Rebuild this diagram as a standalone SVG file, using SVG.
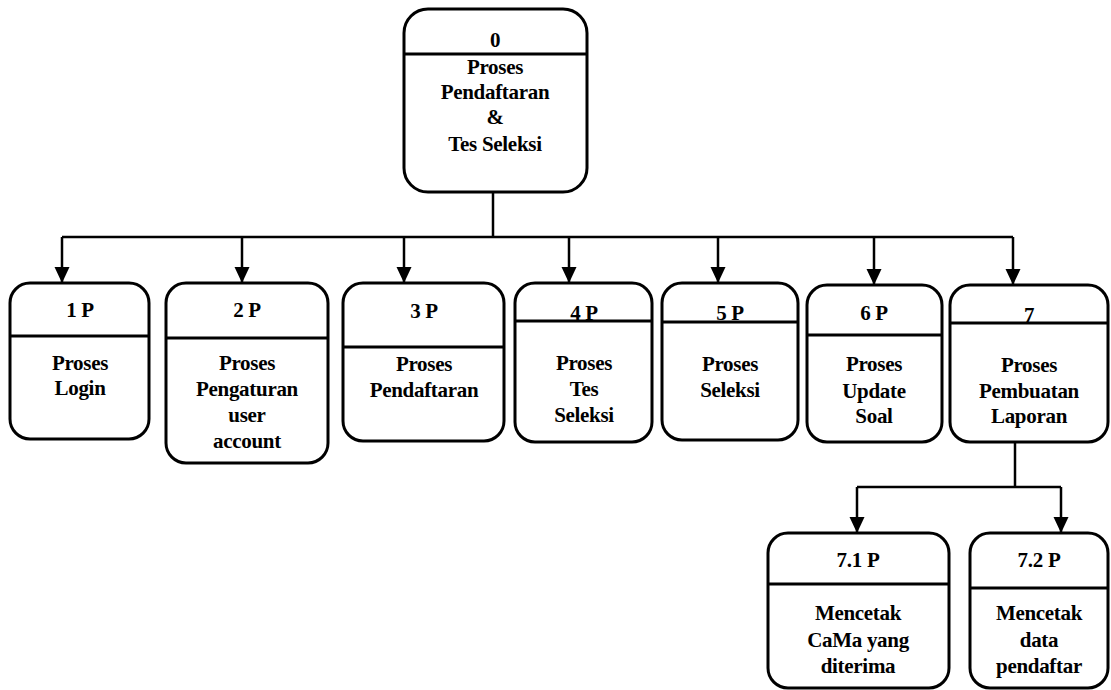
<svg xmlns="http://www.w3.org/2000/svg" width="1111" height="690" viewBox="0 0 1111 690">
  <style>
    .box { fill: #fff; stroke: #000; stroke-width: 3; }
    .div { stroke: #000; stroke-width: 3; }
    .wire { fill: none; stroke: #000; stroke-width: 2.5; }
    text { font-family: "Liberation Serif", "Times New Roman", serif; font-weight: bold; font-size: 21px; letter-spacing: -0.3px; fill: #000; text-anchor: middle; }
  </style>
  <defs>
    <marker id="arrow" viewBox="0 0 16 17" refX="16" refY="8.5" markerWidth="16" markerHeight="17" markerUnits="userSpaceOnUse" orient="auto">
      <path d="M0,1 L16,8.5 L0,16 Z" fill="#000"/>
    </marker>
  </defs>
  <rect width="1111" height="690" fill="#fff"/>

  <!-- connectors -->
  <g id="connectors">
    <path class="wire" d="M493,192 V237"/>
    <path class="wire" d="M62,237 H1013"/>
    <path class="wire" d="M62,237 V283" marker-end="url(#arrow)"/>
    <path class="wire" d="M242,237 V283" marker-end="url(#arrow)"/>
    <path class="wire" d="M404,237 V283" marker-end="url(#arrow)"/>
    <path class="wire" d="M569,237 V283" marker-end="url(#arrow)"/>
    <path class="wire" d="M718,237 V283" marker-end="url(#arrow)"/>
    <path class="wire" d="M874,237 V285" marker-end="url(#arrow)"/>
    <path class="wire" d="M1013,237 V285" marker-end="url(#arrow)"/>
    <path class="wire" d="M1015,442 V487"/>
    <path class="wire" d="M857,487 H1061"/>
    <path class="wire" d="M857,487 V533" marker-end="url(#arrow)"/>
    <path class="wire" d="M1061,487 V533" marker-end="url(#arrow)"/>
  </g>

  <!-- root process -->
  <g id="node-0">
    <rect class="box" x="404" y="9" width="183" height="183" rx="24"/>
    <line class="div" x1="404" y1="54" x2="587" y2="54"/>
    <text x="495" y="47">0</text>
    <text x="495" y="74">Proses</text>
    <text x="495" y="99">Pendaftaran</text>
    <text x="495" y="124">&amp;</text>
    <text x="495" y="151">Tes Seleksi</text>
  </g>

  <g id="node-1">
    <rect class="box" x="10" y="283" width="139" height="156" rx="20"/>
    <line class="div" x1="10" y1="336" x2="149" y2="336"/>
    <text x="80" y="317">1 P</text>
    <text x="80" y="370">Proses</text>
    <text x="80" y="395">Login</text>
  </g>

  <g id="node-2">
    <rect class="box" x="166" y="283" width="162" height="180" rx="20"/>
    <line class="div" x1="166" y1="338" x2="328" y2="338"/>
    <text x="247" y="317">2 P</text>
    <text x="247" y="370">Proses</text>
    <text x="247" y="396">Pengaturan</text>
    <text x="247" y="422">user</text>
    <text x="247" y="448">account</text>
  </g>

  <g id="node-3">
    <rect class="box" x="343" y="283" width="161" height="158" rx="20"/>
    <line class="div" x1="343" y1="347" x2="504" y2="347"/>
    <text x="424" y="318">3 P</text>
    <text x="424" y="371">Proses</text>
    <text x="424" y="397">Pendaftaran</text>
  </g>

  <g id="node-4">
    <rect class="box" x="515" y="283" width="137" height="159" rx="20"/>
    <line class="div" x1="515" y1="321" x2="652" y2="321"/>
    <text x="584" y="320">4 P</text>
    <text x="584" y="370">Proses</text>
    <text x="584" y="396">Tes</text>
    <text x="584" y="422">Seleksi</text>
  </g>

  <g id="node-5">
    <rect class="box" x="662" y="283" width="136" height="157" rx="20"/>
    <line class="div" x1="662" y1="322" x2="798" y2="322"/>
    <text x="730" y="320">5 P</text>
    <text x="730" y="371">Proses</text>
    <text x="730" y="397">Seleksi</text>
  </g>

  <g id="node-6">
    <rect class="box" x="807" y="285" width="135" height="157" rx="20"/>
    <line class="div" x1="807" y1="335" x2="942" y2="335"/>
    <text x="874" y="320">6 P</text>
    <text x="874" y="371">Proses</text>
    <text x="874" y="398">Update</text>
    <text x="874" y="423">Soal</text>
  </g>

  <g id="node-7">
    <rect class="box" x="950" y="285" width="158" height="157" rx="20"/>
    <line class="div" x1="950" y1="323" x2="1108" y2="323"/>
    <text x="1029" y="322">7</text>
    <text x="1029" y="372">Proses</text>
    <text x="1029" y="398">Pembuatan</text>
    <text x="1029" y="423">Laporan</text>
  </g>

  <g id="node-7-1">
    <rect class="box" x="768" y="533" width="181" height="155" rx="20"/>
    <line class="div" x1="768" y1="584" x2="949" y2="584"/>
    <text x="858" y="567">7.1 P</text>
    <text x="858" y="620">Mencetak</text>
    <text x="858" y="647">CaMa yang</text>
    <text x="858" y="673">diterima</text>
  </g>

  <g id="node-7-2">
    <rect class="box" x="970" y="533" width="138" height="155" rx="20"/>
    <line class="div" x1="970" y1="588" x2="1108" y2="588"/>
    <text x="1039" y="567">7.2 P</text>
    <text x="1039" y="620">Mencetak</text>
    <text x="1039" y="647">data</text>
    <text x="1039" y="673">pendaftar</text>
  </g>
</svg>
